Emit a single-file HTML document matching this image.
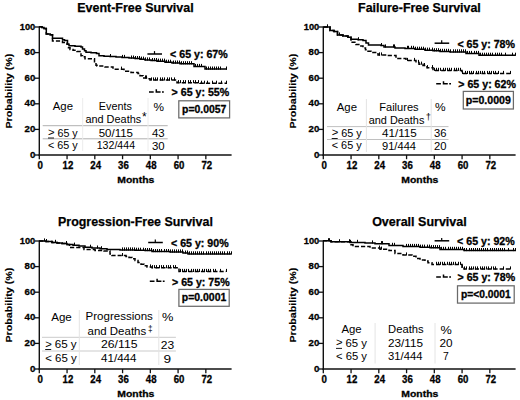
<!DOCTYPE html>
<html><head><meta charset="utf-8"><style>
html,body{margin:0;padding:0;background:#fff;}
svg{display:block;}
text{font-family:"Liberation Sans", sans-serif;fill:#000;}
</style></head><body>
<svg width="520" height="400" viewBox="0 0 520 400">
<rect width="520" height="400" fill="#fff"/>
<text x="135.45" y="11.50" font-size="12.8" font-weight="bold" text-anchor="middle" textLength="116.5" lengthAdjust="spacingAndGlyphs" stroke="#000" stroke-width="0.25">Event-Free Survival</text>
<line x1="39.30" y1="26.40" x2="39.30" y2="155.70" stroke="#111" stroke-width="1.4"/>
<line x1="38.60" y1="155.00" x2="231.60" y2="155.00" stroke="#111" stroke-width="1.4"/>
<line x1="34.80" y1="155.00" x2="39.30" y2="155.00" stroke="#111" stroke-width="1.3"/>
<text x="35.30" y="157.50" font-size="9.7" font-weight="bold" text-anchor="end" textLength="5.4" lengthAdjust="spacingAndGlyphs" stroke="#000" stroke-width="0.3">0</text>
<line x1="34.80" y1="129.40" x2="39.30" y2="129.40" stroke="#111" stroke-width="1.3"/>
<text x="35.30" y="131.90" font-size="9.7" font-weight="bold" text-anchor="end" textLength="10.7" lengthAdjust="spacingAndGlyphs" stroke="#000" stroke-width="0.3">20</text>
<line x1="34.80" y1="103.80" x2="39.30" y2="103.80" stroke="#111" stroke-width="1.3"/>
<text x="35.30" y="106.30" font-size="9.7" font-weight="bold" text-anchor="end" textLength="10.7" lengthAdjust="spacingAndGlyphs" stroke="#000" stroke-width="0.3">40</text>
<line x1="34.80" y1="78.20" x2="39.30" y2="78.20" stroke="#111" stroke-width="1.3"/>
<text x="35.30" y="80.70" font-size="9.7" font-weight="bold" text-anchor="end" textLength="10.7" lengthAdjust="spacingAndGlyphs" stroke="#000" stroke-width="0.3">60</text>
<line x1="34.80" y1="52.60" x2="39.30" y2="52.60" stroke="#111" stroke-width="1.3"/>
<text x="35.30" y="55.10" font-size="9.7" font-weight="bold" text-anchor="end" textLength="10.7" lengthAdjust="spacingAndGlyphs" stroke="#000" stroke-width="0.3">80</text>
<line x1="34.80" y1="27.00" x2="39.30" y2="27.00" stroke="#111" stroke-width="1.3"/>
<text x="35.30" y="29.50" font-size="9.7" font-weight="bold" text-anchor="end" textLength="15.5" lengthAdjust="spacingAndGlyphs" stroke="#000" stroke-width="0.3">100</text>
<line x1="39.30" y1="155.00" x2="39.30" y2="159.20" stroke="#111" stroke-width="1.3"/>
<text x="40.20" y="168.80" font-size="10.0" font-weight="bold" text-anchor="middle" textLength="5.4" lengthAdjust="spacingAndGlyphs" stroke="#000" stroke-width="0.3">0</text>
<line x1="67.06" y1="155.00" x2="67.06" y2="159.20" stroke="#111" stroke-width="1.3"/>
<text x="67.96" y="168.80" font-size="10.0" font-weight="bold" text-anchor="middle" textLength="10.7" lengthAdjust="spacingAndGlyphs" stroke="#000" stroke-width="0.3">12</text>
<line x1="94.81" y1="155.00" x2="94.81" y2="159.20" stroke="#111" stroke-width="1.3"/>
<text x="95.71" y="168.80" font-size="10.0" font-weight="bold" text-anchor="middle" textLength="10.7" lengthAdjust="spacingAndGlyphs" stroke="#000" stroke-width="0.3">24</text>
<line x1="122.57" y1="155.00" x2="122.57" y2="159.20" stroke="#111" stroke-width="1.3"/>
<text x="123.47" y="168.80" font-size="10.0" font-weight="bold" text-anchor="middle" textLength="10.7" lengthAdjust="spacingAndGlyphs" stroke="#000" stroke-width="0.3">36</text>
<line x1="150.32" y1="155.00" x2="150.32" y2="159.20" stroke="#111" stroke-width="1.3"/>
<text x="151.22" y="168.80" font-size="10.0" font-weight="bold" text-anchor="middle" textLength="10.7" lengthAdjust="spacingAndGlyphs" stroke="#000" stroke-width="0.3">48</text>
<line x1="178.08" y1="155.00" x2="178.08" y2="159.20" stroke="#111" stroke-width="1.3"/>
<text x="178.98" y="168.80" font-size="10.0" font-weight="bold" text-anchor="middle" textLength="10.7" lengthAdjust="spacingAndGlyphs" stroke="#000" stroke-width="0.3">60</text>
<line x1="205.84" y1="155.00" x2="205.84" y2="159.20" stroke="#111" stroke-width="1.3"/>
<text x="206.74" y="168.80" font-size="10.0" font-weight="bold" text-anchor="middle" textLength="10.7" lengthAdjust="spacingAndGlyphs" stroke="#000" stroke-width="0.3">72</text>
<text x="135.80" y="183.10" font-size="9.9" font-weight="bold" text-anchor="middle" textLength="37.0" lengthAdjust="spacingAndGlyphs" stroke="#000" stroke-width="0.3">Months</text>
<text x="0" y="0" font-size="9.7" font-weight="bold" stroke="#000" stroke-width="0.15" text-anchor="middle" textLength="75" lengthAdjust="spacingAndGlyphs" transform="translate(12.30,91.10) rotate(-90)">Probability (%)</text>
<path d="M39.20 26.80H42.00V27.50H44.00V28.50H46.30V33.90H50.20V34.70H52.50V38.20H62.50V39.70H64.50V40.40H67.50V44.30H69.00V45.80H75.00V46.30H81.00V47.10H82.50V49.00H84.50V50.70H86.00V52.20H91.00V52.80H96.50V53.60H99.00V55.80H104.00V56.30H110.00V56.60H116.00V57.10H122.00V57.50H129.00V58.10H135.00V58.60H140.00V59.20H145.00V60.00H151.00V60.60H157.00V61.20H165.00V62.30H172.00V63.10H180.00V63.80H194.00V66.50H205.00V69.10H227.00" fill="none" stroke="#000" stroke-width="1.5"/>
<path d="M39.20 26.80H42.00V27.50H44.00V28.50H46.30V33.90H50.20V34.70H52.50V41.10H62.50V42.40H67.00V44.30H68.50V47.80H70.00V49.40H73.00V50.30H77.00V51.40H80.00V52.60H81.00V55.70H82.50V56.80H85.00V58.80H94.50V63.00H96.00V65.30H97.00V66.00H105.00V66.90H113.00V69.20H124.00V71.20H131.00V72.50H138.00V73.50H140.00V75.80H143.00V78.00H148.00V78.80H150.00V80.00H177.00V82.70H200.00V83.30H227.00" fill="none" stroke="#000" stroke-width="1.5" stroke-dasharray="4.2 2"/>
<path d="M110.50 57.10v-3.1M122.50 58.00v-3.1M124.50 58.00v-3.1M131.50 58.60v-3.1M133.50 58.60v-3.1M135.50 59.10v-3.1M137.50 59.10v-3.1M139.50 59.10v-3.1M141.50 59.70v-3.1M143.50 59.70v-3.1M145.50 60.50v-3.1M147.50 60.50v-3.1M149.50 60.50v-3.1M152.50 61.10v-3.1M154.50 61.10v-3.1M156.50 61.10v-3.1M158.50 61.70v-3.1M160.50 61.70v-3.1M162.50 61.70v-3.1M164.50 61.70v-3.1M166.50 62.80v-3.1M168.50 62.80v-3.1M170.50 62.80v-3.1M173.50 63.60v-3.1M175.50 63.60v-3.1M177.50 63.60v-3.1M179.50 63.60v-3.1M181.50 64.30v-3.1M183.50 64.30v-3.1M185.50 64.30v-3.1M187.50 64.30v-3.1M189.50 64.30v-3.1M191.50 64.30v-3.1M195.50 67.00v-3.1M197.50 67.00v-3.1M199.50 67.00v-3.1M201.50 67.00v-3.1M206.50 69.60v-3.1M208.50 69.60v-3.1M210.50 69.60v-3.1M212.50 69.60v-3.1M214.50 69.60v-3.1M216.50 69.60v-3.1M218.50 69.60v-3.1M220.50 69.60v-3.1M226.50 69.60v-3.1M121.50 69.70v-3.1M145.50 78.50v-3.1M146.50 78.50v-3.1M151.50 80.50v-3.1M153.50 80.50v-3.1M155.50 80.50v-3.1M157.50 80.50v-3.1M160.50 80.50v-3.1M162.50 80.50v-3.1M164.50 80.50v-3.1M167.50 80.50v-3.1M169.50 80.50v-3.1M171.50 80.50v-3.1M174.50 80.50v-3.1M178.50 83.20v-3.1M180.50 83.20v-3.1M183.50 83.20v-3.1M185.50 83.20v-3.1M188.50 83.20v-3.1M190.50 83.20v-3.1M193.50 83.20v-3.1M195.50 83.20v-3.1M198.50 83.20v-3.1M201.50 83.80v-3.1M204.50 83.80v-3.1M207.50 83.80v-3.1M212.50 83.80v-3.1M216.50 83.80v-3.1M221.50 83.80v-3.1M226.50 83.80v-3.1" fill="none" stroke="#000" stroke-width="1.0"/>
<line x1="147.40" y1="54.00" x2="162.00" y2="54.00" stroke="#000" stroke-width="1.5"/>
<line x1="154.50" y1="54.00" x2="154.50" y2="51.10" stroke="#000" stroke-width="1.2"/>
<text x="170.10" y="58.30" font-size="10.3" font-weight="bold" text-anchor="start" textLength="57.6" lengthAdjust="spacingAndGlyphs" stroke="#000" stroke-width="0.3">&lt; 65 y: 67%</text>
<path d="M149.00 91.90h4.7M156.30 89.30V91.90h4.3M162.00 91.90h1.8" fill="none" stroke="#000" stroke-width="1.5"/>
<text x="171.60" y="96.10" font-size="10.3" font-weight="bold" text-anchor="start" textLength="57.6" lengthAdjust="spacingAndGlyphs" stroke="#000" stroke-width="0.3">&gt; 65 y: 55%</text>
<rect x="178.80" y="100.80" width="50.80" height="17.10" fill="#fff" stroke="#6a6a6a" stroke-width="1.25"/>
<text x="204.20" y="112.95" font-size="10.2" font-weight="bold" text-anchor="middle" textLength="44.3" lengthAdjust="spacingAndGlyphs" stroke="#000" stroke-width="0.3">p=0.0057</text>
<text x="62.90" y="109.50" font-size="10.5" text-anchor="middle" textLength="20.2" lengthAdjust="spacingAndGlyphs">Age</text>
<text x="115.30" y="109.50" font-size="10.5" text-anchor="middle" textLength="33" lengthAdjust="spacingAndGlyphs">Events</text>
<text x="113.30" y="122.60" font-size="10.5" text-anchor="middle" textLength="55.8" lengthAdjust="spacingAndGlyphs">and Deaths</text>
<text x="144.30" y="121.40" font-size="12" text-anchor="middle">*</text>
<text x="158.75" y="110.70" font-size="10.5" text-anchor="middle" textLength="10.5" lengthAdjust="spacingAndGlyphs">%</text>
<line x1="42.70" y1="125.70" x2="167.70" y2="125.70" stroke="#b0b0b0" stroke-width="1"/>
<line x1="42.70" y1="138.80" x2="167.70" y2="138.80" stroke="#b0b0b0" stroke-width="1"/>
<line x1="82.70" y1="98.00" x2="82.70" y2="151.00" stroke="#ececec" stroke-width="1"/>
<line x1="148.00" y1="98.00" x2="148.00" y2="151.00" stroke="#ececec" stroke-width="1"/>
<text x="51.30" y="136.30" font-size="10.8" text-anchor="middle" textLength="6.6" lengthAdjust="spacingAndGlyphs">&gt;</text>
<line x1="48.00" y1="138.00" x2="54.00" y2="138.00" stroke="#000" stroke-width="0.9"/>
<text x="67.60" y="136.70" font-size="10.5" text-anchor="middle" textLength="20.200000000000003" lengthAdjust="spacingAndGlyphs">65 y</text>
<text x="62.85" y="149.30" font-size="10.5" text-anchor="middle" textLength="29.700000000000003" lengthAdjust="spacingAndGlyphs">&lt; 65 y</text>
<text x="115.85" y="136.70" font-size="10.5" text-anchor="middle" textLength="34.3" lengthAdjust="spacingAndGlyphs">50/115</text>
<text x="115.90" y="149.30" font-size="10.5" text-anchor="middle" textLength="38.4" lengthAdjust="spacingAndGlyphs">132/444</text>
<text x="158.35" y="136.70" font-size="10.5" text-anchor="middle" textLength="12.7" lengthAdjust="spacingAndGlyphs">43</text>
<text x="158.35" y="149.50" font-size="10.5" text-anchor="middle" textLength="12.7" lengthAdjust="spacingAndGlyphs">30</text>
<text x="419.45" y="11.50" font-size="12.8" font-weight="bold" text-anchor="middle" textLength="122.7" lengthAdjust="spacingAndGlyphs" stroke="#000" stroke-width="0.25">Failure-Free Survival</text>
<line x1="323.30" y1="26.40" x2="323.30" y2="155.70" stroke="#111" stroke-width="1.4"/>
<line x1="322.60" y1="155.00" x2="515.60" y2="155.00" stroke="#111" stroke-width="1.4"/>
<line x1="318.80" y1="155.00" x2="323.30" y2="155.00" stroke="#111" stroke-width="1.3"/>
<text x="319.30" y="157.50" font-size="9.7" font-weight="bold" text-anchor="end" textLength="5.4" lengthAdjust="spacingAndGlyphs" stroke="#000" stroke-width="0.3">0</text>
<line x1="318.80" y1="129.40" x2="323.30" y2="129.40" stroke="#111" stroke-width="1.3"/>
<text x="319.30" y="131.90" font-size="9.7" font-weight="bold" text-anchor="end" textLength="10.7" lengthAdjust="spacingAndGlyphs" stroke="#000" stroke-width="0.3">20</text>
<line x1="318.80" y1="103.80" x2="323.30" y2="103.80" stroke="#111" stroke-width="1.3"/>
<text x="319.30" y="106.30" font-size="9.7" font-weight="bold" text-anchor="end" textLength="10.7" lengthAdjust="spacingAndGlyphs" stroke="#000" stroke-width="0.3">40</text>
<line x1="318.80" y1="78.20" x2="323.30" y2="78.20" stroke="#111" stroke-width="1.3"/>
<text x="319.30" y="80.70" font-size="9.7" font-weight="bold" text-anchor="end" textLength="10.7" lengthAdjust="spacingAndGlyphs" stroke="#000" stroke-width="0.3">60</text>
<line x1="318.80" y1="52.60" x2="323.30" y2="52.60" stroke="#111" stroke-width="1.3"/>
<text x="319.30" y="55.10" font-size="9.7" font-weight="bold" text-anchor="end" textLength="10.7" lengthAdjust="spacingAndGlyphs" stroke="#000" stroke-width="0.3">80</text>
<line x1="318.80" y1="27.00" x2="323.30" y2="27.00" stroke="#111" stroke-width="1.3"/>
<text x="319.30" y="29.50" font-size="9.7" font-weight="bold" text-anchor="end" textLength="15.5" lengthAdjust="spacingAndGlyphs" stroke="#000" stroke-width="0.3">100</text>
<line x1="323.30" y1="155.00" x2="323.30" y2="159.20" stroke="#111" stroke-width="1.3"/>
<text x="324.20" y="168.80" font-size="10.0" font-weight="bold" text-anchor="middle" textLength="5.4" lengthAdjust="spacingAndGlyphs" stroke="#000" stroke-width="0.3">0</text>
<line x1="351.06" y1="155.00" x2="351.06" y2="159.20" stroke="#111" stroke-width="1.3"/>
<text x="351.96" y="168.80" font-size="10.0" font-weight="bold" text-anchor="middle" textLength="10.7" lengthAdjust="spacingAndGlyphs" stroke="#000" stroke-width="0.3">12</text>
<line x1="378.81" y1="155.00" x2="378.81" y2="159.20" stroke="#111" stroke-width="1.3"/>
<text x="379.71" y="168.80" font-size="10.0" font-weight="bold" text-anchor="middle" textLength="10.7" lengthAdjust="spacingAndGlyphs" stroke="#000" stroke-width="0.3">24</text>
<line x1="406.57" y1="155.00" x2="406.57" y2="159.20" stroke="#111" stroke-width="1.3"/>
<text x="407.47" y="168.80" font-size="10.0" font-weight="bold" text-anchor="middle" textLength="10.7" lengthAdjust="spacingAndGlyphs" stroke="#000" stroke-width="0.3">36</text>
<line x1="434.32" y1="155.00" x2="434.32" y2="159.20" stroke="#111" stroke-width="1.3"/>
<text x="435.22" y="168.80" font-size="10.0" font-weight="bold" text-anchor="middle" textLength="10.7" lengthAdjust="spacingAndGlyphs" stroke="#000" stroke-width="0.3">48</text>
<line x1="462.08" y1="155.00" x2="462.08" y2="159.20" stroke="#111" stroke-width="1.3"/>
<text x="462.98" y="168.80" font-size="10.0" font-weight="bold" text-anchor="middle" textLength="10.7" lengthAdjust="spacingAndGlyphs" stroke="#000" stroke-width="0.3">60</text>
<line x1="489.84" y1="155.00" x2="489.84" y2="159.20" stroke="#111" stroke-width="1.3"/>
<text x="490.74" y="168.80" font-size="10.0" font-weight="bold" text-anchor="middle" textLength="10.7" lengthAdjust="spacingAndGlyphs" stroke="#000" stroke-width="0.3">72</text>
<text x="419.80" y="183.10" font-size="9.9" font-weight="bold" text-anchor="middle" textLength="37.0" lengthAdjust="spacingAndGlyphs" stroke="#000" stroke-width="0.3">Months</text>
<text x="0" y="0" font-size="9.7" font-weight="bold" stroke="#000" stroke-width="0.15" text-anchor="middle" textLength="75" lengthAdjust="spacingAndGlyphs" transform="translate(296.30,91.10) rotate(-90)">Probability (%)</text>
<path d="M323.40 26.90H330.00V30.60H334.00V31.50H337.50V35.00H343.00V36.00H348.00V37.20H351.00V39.20H358.00V39.80H363.00V40.60H366.00V43.00H368.50V45.00H381.00V45.60H384.00V47.00H395.00V47.90H405.00V48.40H415.00V49.30H425.00V50.20H433.00V50.80H440.00V51.40H450.00V51.90H466.00V53.50H479.00V55.30H515.50" fill="none" stroke="#000" stroke-width="1.5"/>
<path d="M323.40 26.90H330.00V30.60H334.00V31.50H337.50V35.00H343.00V36.00H348.00V37.20H351.00V42.30H356.00V44.50H360.00V46.00H363.00V48.00H365.50V49.80H368.00V51.20H371.00V52.50H378.00V55.00H387.00V55.60H396.00V58.50H406.00V60.50H416.00V62.50H419.00V64.20H423.00V65.60H427.00V67.70H433.00V70.40H462.00V73.50H511.20" fill="none" stroke="#000" stroke-width="1.5" stroke-dasharray="4.2 2"/>
<path d="M327.50 27.40v-3.1M339.50 35.50v-3.1M358.50 40.30v-3.1M381.50 46.10v-3.1M385.50 47.50v-3.1M393.50 47.50v-3.1M394.50 47.50v-3.1M407.50 48.90v-3.1M408.50 48.90v-3.1M411.50 48.90v-3.1M413.50 48.90v-3.1M415.50 49.80v-3.1M417.50 49.80v-3.1M419.50 49.80v-3.1M421.50 49.80v-3.1M423.50 49.80v-3.1M425.50 50.70v-3.1M427.50 50.70v-3.1M429.50 50.70v-3.1M432.50 50.70v-3.1M434.50 51.30v-3.1M436.50 51.30v-3.1M438.50 51.30v-3.1M440.50 51.90v-3.1M442.50 51.90v-3.1M444.50 51.90v-3.1M446.50 51.90v-3.1M448.50 51.90v-3.1M450.50 52.40v-3.1M453.50 52.40v-3.1M455.50 52.40v-3.1M457.50 52.40v-3.1M459.50 52.40v-3.1M461.50 52.40v-3.1M463.50 52.40v-3.1M465.50 52.40v-3.1M467.50 54.00v-3.1M469.50 54.00v-3.1M471.50 54.00v-3.1M474.50 54.00v-3.1M476.50 54.00v-3.1M478.50 54.00v-3.1M480.50 55.80v-3.1M482.50 55.80v-3.1M484.50 55.80v-3.1M486.50 55.80v-3.1M488.50 55.80v-3.1M490.50 55.80v-3.1M492.50 55.80v-3.1M495.50 55.80v-3.1M497.50 55.80v-3.1M499.50 55.80v-3.1M501.50 55.80v-3.1M505.50 55.80v-3.1M512.50 55.80v-3.1M515.50 55.80v-3.1M379.50 55.50v-3.1M381.50 55.50v-3.1M407.50 61.00v-3.1M414.50 61.00v-3.1M418.50 63.00v-3.1M421.50 64.70v-3.1M424.50 66.10v-3.1M427.50 68.20v-3.1M432.50 68.20v-3.1M434.50 70.90v-3.1M436.50 70.90v-3.1M438.50 70.90v-3.1M440.50 70.90v-3.1M443.50 70.90v-3.1M445.50 70.90v-3.1M447.50 70.90v-3.1M449.50 70.90v-3.1M451.50 70.90v-3.1M454.50 70.90v-3.1M456.50 70.90v-3.1M458.50 70.90v-3.1M460.50 70.90v-3.1M462.50 74.00v-3.1M465.50 74.00v-3.1M467.50 74.00v-3.1M469.50 74.00v-3.1M471.50 74.00v-3.1M473.50 74.00v-3.1M476.50 74.00v-3.1M478.50 74.00v-3.1M480.50 74.00v-3.1M482.50 74.00v-3.1M484.50 74.00v-3.1M487.50 74.00v-3.1M489.50 74.00v-3.1M491.50 74.00v-3.1M493.50 74.00v-3.1M495.50 74.00v-3.1M498.50 74.00v-3.1M503.50 74.00v-3.1M510.50 74.00v-3.1" fill="none" stroke="#000" stroke-width="1.0"/>
<line x1="434.60" y1="43.20" x2="449.20" y2="43.20" stroke="#000" stroke-width="1.5"/>
<line x1="441.70" y1="43.20" x2="441.70" y2="40.30" stroke="#000" stroke-width="1.2"/>
<text x="457.40" y="47.50" font-size="10.3" font-weight="bold" text-anchor="start" textLength="57.6" lengthAdjust="spacingAndGlyphs" stroke="#000" stroke-width="0.3">&lt; 65 y: 78%</text>
<path d="M436.20 83.80h4.7M443.50 81.20V83.80h4.3M449.20 83.80h1.8" fill="none" stroke="#000" stroke-width="1.5"/>
<text x="458.30" y="88.00" font-size="10.3" font-weight="bold" text-anchor="start" textLength="57.6" lengthAdjust="spacingAndGlyphs" stroke="#000" stroke-width="0.3">&gt; 65 y: 62%</text>
<rect x="463.30" y="91.40" width="50.10" height="17.60" fill="#fff" stroke="#6a6a6a" stroke-width="1.25"/>
<text x="488.35" y="103.80" font-size="10.2" font-weight="bold" text-anchor="middle" textLength="45.0" lengthAdjust="spacingAndGlyphs" stroke="#000" stroke-width="0.3">p=0.0009</text>
<text x="346.90" y="110.70" font-size="10.5" text-anchor="middle" textLength="20.2" lengthAdjust="spacingAndGlyphs">Age</text>
<text x="398.95" y="110.80" font-size="10.5" text-anchor="middle" textLength="39.5" lengthAdjust="spacingAndGlyphs">Failures</text>
<text x="396.55" y="123.50" font-size="10.5" text-anchor="middle" textLength="55.7" lengthAdjust="spacingAndGlyphs">and Deaths</text>
<text x="428.30" y="119.50" font-size="9.5" text-anchor="middle">†</text>
<text x="440.30" y="111.30" font-size="10.5" text-anchor="middle" textLength="10.6" lengthAdjust="spacingAndGlyphs">%</text>
<line x1="327.00" y1="126.60" x2="448.50" y2="126.60" stroke="#c0c0c0" stroke-width="1"/>
<line x1="327.00" y1="139.50" x2="448.50" y2="139.50" stroke="#c0c0c0" stroke-width="1"/>
<line x1="366.40" y1="99.00" x2="366.40" y2="152.00" stroke="#e4e4e4" stroke-width="1"/>
<line x1="431.20" y1="99.00" x2="431.20" y2="152.00" stroke="#e4e4e4" stroke-width="1"/>
<text x="335.00" y="136.40" font-size="10.8" text-anchor="middle" textLength="6.6" lengthAdjust="spacingAndGlyphs">&gt;</text>
<line x1="331.70" y1="138.50" x2="337.70" y2="138.50" stroke="#000" stroke-width="0.9"/>
<text x="351.45" y="136.80" font-size="10.5" text-anchor="middle" textLength="20.5" lengthAdjust="spacingAndGlyphs">65 y</text>
<text x="346.70" y="149.40" font-size="10.5" text-anchor="middle" textLength="30.0" lengthAdjust="spacingAndGlyphs">&lt; 65 y</text>
<text x="399.35" y="136.90" font-size="10.5" text-anchor="middle" textLength="34.7" lengthAdjust="spacingAndGlyphs">41/115</text>
<text x="399.00" y="149.80" font-size="10.5" text-anchor="middle" textLength="34" lengthAdjust="spacingAndGlyphs">91/444</text>
<text x="440.25" y="136.90" font-size="10.5" text-anchor="middle" textLength="12.5" lengthAdjust="spacingAndGlyphs">36</text>
<text x="440.25" y="149.80" font-size="10.5" text-anchor="middle" textLength="12.5" lengthAdjust="spacingAndGlyphs">20</text>
<text x="135.45" y="225.50" font-size="12.8" font-weight="bold" text-anchor="middle" textLength="154.8" lengthAdjust="spacingAndGlyphs" stroke="#000" stroke-width="0.25">Progression-Free Survival</text>
<line x1="39.30" y1="240.40" x2="39.30" y2="369.70" stroke="#111" stroke-width="1.4"/>
<line x1="38.60" y1="369.00" x2="231.60" y2="369.00" stroke="#111" stroke-width="1.4"/>
<line x1="34.80" y1="369.00" x2="39.30" y2="369.00" stroke="#111" stroke-width="1.3"/>
<text x="35.30" y="371.50" font-size="9.7" font-weight="bold" text-anchor="end" textLength="5.4" lengthAdjust="spacingAndGlyphs" stroke="#000" stroke-width="0.3">0</text>
<line x1="34.80" y1="343.40" x2="39.30" y2="343.40" stroke="#111" stroke-width="1.3"/>
<text x="35.30" y="345.90" font-size="9.7" font-weight="bold" text-anchor="end" textLength="10.7" lengthAdjust="spacingAndGlyphs" stroke="#000" stroke-width="0.3">20</text>
<line x1="34.80" y1="317.80" x2="39.30" y2="317.80" stroke="#111" stroke-width="1.3"/>
<text x="35.30" y="320.30" font-size="9.7" font-weight="bold" text-anchor="end" textLength="10.7" lengthAdjust="spacingAndGlyphs" stroke="#000" stroke-width="0.3">40</text>
<line x1="34.80" y1="292.20" x2="39.30" y2="292.20" stroke="#111" stroke-width="1.3"/>
<text x="35.30" y="294.70" font-size="9.7" font-weight="bold" text-anchor="end" textLength="10.7" lengthAdjust="spacingAndGlyphs" stroke="#000" stroke-width="0.3">60</text>
<line x1="34.80" y1="266.60" x2="39.30" y2="266.60" stroke="#111" stroke-width="1.3"/>
<text x="35.30" y="269.10" font-size="9.7" font-weight="bold" text-anchor="end" textLength="10.7" lengthAdjust="spacingAndGlyphs" stroke="#000" stroke-width="0.3">80</text>
<line x1="34.80" y1="241.00" x2="39.30" y2="241.00" stroke="#111" stroke-width="1.3"/>
<text x="35.30" y="243.50" font-size="9.7" font-weight="bold" text-anchor="end" textLength="15.5" lengthAdjust="spacingAndGlyphs" stroke="#000" stroke-width="0.3">100</text>
<line x1="39.30" y1="369.00" x2="39.30" y2="373.20" stroke="#111" stroke-width="1.3"/>
<text x="40.20" y="382.80" font-size="10.0" font-weight="bold" text-anchor="middle" textLength="5.4" lengthAdjust="spacingAndGlyphs" stroke="#000" stroke-width="0.3">0</text>
<line x1="67.06" y1="369.00" x2="67.06" y2="373.20" stroke="#111" stroke-width="1.3"/>
<text x="67.96" y="382.80" font-size="10.0" font-weight="bold" text-anchor="middle" textLength="10.7" lengthAdjust="spacingAndGlyphs" stroke="#000" stroke-width="0.3">12</text>
<line x1="94.81" y1="369.00" x2="94.81" y2="373.20" stroke="#111" stroke-width="1.3"/>
<text x="95.71" y="382.80" font-size="10.0" font-weight="bold" text-anchor="middle" textLength="10.7" lengthAdjust="spacingAndGlyphs" stroke="#000" stroke-width="0.3">24</text>
<line x1="122.57" y1="369.00" x2="122.57" y2="373.20" stroke="#111" stroke-width="1.3"/>
<text x="123.47" y="382.80" font-size="10.0" font-weight="bold" text-anchor="middle" textLength="10.7" lengthAdjust="spacingAndGlyphs" stroke="#000" stroke-width="0.3">36</text>
<line x1="150.32" y1="369.00" x2="150.32" y2="373.20" stroke="#111" stroke-width="1.3"/>
<text x="151.22" y="382.80" font-size="10.0" font-weight="bold" text-anchor="middle" textLength="10.7" lengthAdjust="spacingAndGlyphs" stroke="#000" stroke-width="0.3">48</text>
<line x1="178.08" y1="369.00" x2="178.08" y2="373.20" stroke="#111" stroke-width="1.3"/>
<text x="178.98" y="382.80" font-size="10.0" font-weight="bold" text-anchor="middle" textLength="10.7" lengthAdjust="spacingAndGlyphs" stroke="#000" stroke-width="0.3">60</text>
<line x1="205.84" y1="369.00" x2="205.84" y2="373.20" stroke="#111" stroke-width="1.3"/>
<text x="206.74" y="382.80" font-size="10.0" font-weight="bold" text-anchor="middle" textLength="10.7" lengthAdjust="spacingAndGlyphs" stroke="#000" stroke-width="0.3">72</text>
<text x="135.80" y="397.10" font-size="9.9" font-weight="bold" text-anchor="middle" textLength="37.0" lengthAdjust="spacingAndGlyphs" stroke="#000" stroke-width="0.3">Months</text>
<text x="0" y="0" font-size="9.7" font-weight="bold" stroke="#000" stroke-width="0.15" text-anchor="middle" textLength="75" lengthAdjust="spacingAndGlyphs" transform="translate(12.30,305.10) rotate(-90)">Probability (%)</text>
<path d="M39.20 241.00H46.00V241.60H52.00V242.40H57.00V243.10H62.00V243.60H67.00V244.50H73.00V245.20H79.00V245.90H85.00V247.30H92.00V248.10H100.00V248.80H107.00V249.60H120.00V250.00H135.00V250.30H145.00V250.60H152.00V251.60H170.00V252.00H183.00V253.10H188.00V253.90H231.50" fill="none" stroke="#000" stroke-width="1.5"/>
<path d="M39.20 241.00H46.00V241.60H52.00V242.40H57.00V243.10H62.00V243.60H67.00V244.50H69.50V247.40H84.00V249.50H95.00V250.40H104.00V251.00H110.00V254.00H112.00V255.60H126.00V256.40H129.00V257.40H132.00V258.80H135.00V260.60H138.00V262.50H141.00V264.30H144.00V265.80H147.00V267.00H152.00V267.70H179.00V271.50H226.00" fill="none" stroke="#000" stroke-width="1.5" stroke-dasharray="4.2 2"/>
<path d="M44.50 241.50v-3.1M46.50 242.10v-3.1M55.50 242.90v-3.1M66.50 244.10v-3.1M74.50 245.70v-3.1M90.50 247.80v-3.1M97.50 248.60v-3.1M101.50 249.30v-3.1M122.50 250.50v-3.1M124.50 250.50v-3.1M126.50 250.50v-3.1M128.50 250.50v-3.1M130.50 250.50v-3.1M132.50 250.50v-3.1M134.50 250.50v-3.1M136.50 250.80v-3.1M138.50 250.80v-3.1M140.50 250.80v-3.1M143.50 250.80v-3.1M145.50 251.10v-3.1M147.50 251.10v-3.1M149.50 251.10v-3.1M151.50 251.10v-3.1M153.50 252.10v-3.1M155.50 252.10v-3.1M157.50 252.10v-3.1M159.50 252.10v-3.1M161.50 252.10v-3.1M164.50 252.10v-3.1M166.50 252.10v-3.1M168.50 252.10v-3.1M170.50 252.50v-3.1M172.50 252.50v-3.1M174.50 252.50v-3.1M176.50 252.50v-3.1M178.50 252.50v-3.1M180.50 252.50v-3.1M182.50 252.50v-3.1M185.50 253.60v-3.1M187.50 253.60v-3.1M189.50 254.40v-3.1M191.50 254.40v-3.1M193.50 254.40v-3.1M195.50 254.40v-3.1M197.50 254.40v-3.1M199.50 254.40v-3.1M201.50 254.40v-3.1M203.50 254.40v-3.1M206.50 254.40v-3.1M208.50 254.40v-3.1M210.50 254.40v-3.1M212.50 254.40v-3.1M214.50 254.40v-3.1M216.50 254.40v-3.1M218.50 254.40v-3.1M220.50 254.40v-3.1M222.50 254.40v-3.1M224.50 254.40v-3.1M227.50 254.40v-3.1M229.50 254.40v-3.1M231.50 254.40v-3.1M122.50 256.10v-3.1M150.50 267.50v-3.1M152.50 268.20v-3.1M154.50 268.20v-3.1M156.50 268.20v-3.1M159.50 268.20v-3.1M161.50 268.20v-3.1M163.50 268.20v-3.1M166.50 268.20v-3.1M168.50 268.20v-3.1M170.50 268.20v-3.1M173.50 268.20v-3.1M175.50 268.20v-3.1M180.50 272.00v-3.1M182.50 272.00v-3.1M184.50 272.00v-3.1M186.50 272.00v-3.1M188.50 272.00v-3.1M191.50 272.00v-3.1M193.50 272.00v-3.1M195.50 272.00v-3.1M197.50 272.00v-3.1M199.50 272.00v-3.1M202.50 272.00v-3.1M204.50 272.00v-3.1M206.50 272.00v-3.1M208.50 272.00v-3.1M210.50 272.00v-3.1M213.50 272.00v-3.1M215.50 272.00v-3.1M220.50 272.00v-3.1M226.50 272.00v-3.1" fill="none" stroke="#000" stroke-width="1.0"/>
<line x1="148.20" y1="242.50" x2="162.80" y2="242.50" stroke="#000" stroke-width="1.5"/>
<line x1="155.30" y1="242.50" x2="155.30" y2="239.60" stroke="#000" stroke-width="1.2"/>
<text x="171.00" y="246.80" font-size="10.3" font-weight="bold" text-anchor="start" textLength="57.6" lengthAdjust="spacingAndGlyphs" stroke="#000" stroke-width="0.3">&lt; 65 y: 90%</text>
<path d="M149.80 281.30h4.7M157.10 278.70V281.30h4.3M162.80 281.30h1.8" fill="none" stroke="#000" stroke-width="1.5"/>
<text x="172.00" y="285.50" font-size="10.3" font-weight="bold" text-anchor="start" textLength="57.6" lengthAdjust="spacingAndGlyphs" stroke="#000" stroke-width="0.3">&gt; 65 y: 75%</text>
<rect x="178.90" y="289.40" width="50.30" height="16.90" fill="#fff" stroke="#6a6a6a" stroke-width="1.25"/>
<text x="204.05" y="301.45" font-size="10.2" font-weight="bold" text-anchor="middle" textLength="44.5" lengthAdjust="spacingAndGlyphs" stroke="#000" stroke-width="0.3">p=0.0001</text>
<text x="61.50" y="320.70" font-size="10.5" text-anchor="middle" textLength="20.6" lengthAdjust="spacingAndGlyphs">Age</text>
<text x="119.25" y="320.40" font-size="10.5" text-anchor="middle" textLength="67.3" lengthAdjust="spacingAndGlyphs">Progressions</text>
<text x="116.85" y="334.80" font-size="10.5" text-anchor="middle" textLength="58.7" lengthAdjust="spacingAndGlyphs">and Deaths</text>
<text x="150.40" y="332.40" font-size="8.2" text-anchor="middle">‡</text>
<text x="167.60" y="321.00" font-size="10.5" text-anchor="middle" textLength="11.4" lengthAdjust="spacingAndGlyphs">%</text>
<line x1="42.00" y1="337.30" x2="175.90" y2="337.30" stroke="#cbcbcb" stroke-width="1"/>
<line x1="42.00" y1="351.00" x2="175.90" y2="351.00" stroke="#cbcbcb" stroke-width="1"/>
<line x1="79.30" y1="310.00" x2="79.30" y2="365.00" stroke="#e4e4e4" stroke-width="1"/>
<line x1="158.80" y1="310.00" x2="158.80" y2="365.00" stroke="#e4e4e4" stroke-width="1"/>
<text x="48.50" y="347.80" font-size="10.8" text-anchor="middle" textLength="6.6" lengthAdjust="spacingAndGlyphs">&gt;</text>
<line x1="45.20" y1="349.50" x2="51.20" y2="349.50" stroke="#000" stroke-width="0.9"/>
<text x="65.70" y="348.20" font-size="10.5" text-anchor="middle" textLength="22.0" lengthAdjust="spacingAndGlyphs">65 y</text>
<text x="60.95" y="362.00" font-size="10.5" text-anchor="middle" textLength="31.5" lengthAdjust="spacingAndGlyphs">&lt; 65 y</text>
<text x="119.25" y="347.70" font-size="10.5" text-anchor="middle" textLength="36.5" lengthAdjust="spacingAndGlyphs">26/115</text>
<text x="118.75" y="361.70" font-size="10.5" text-anchor="middle" textLength="35.5" lengthAdjust="spacingAndGlyphs">41/444</text>
<text x="167.40" y="348.70" font-size="10.5" text-anchor="middle" textLength="13.4" lengthAdjust="spacingAndGlyphs">23</text>
<text x="167.40" y="362.70" font-size="10.5" text-anchor="middle" textLength="7.6" lengthAdjust="spacingAndGlyphs">9</text>
<text x="419.45" y="225.50" font-size="12.8" font-weight="bold" text-anchor="middle" textLength="94.6" lengthAdjust="spacingAndGlyphs" stroke="#000" stroke-width="0.25">Overall Survival</text>
<line x1="323.30" y1="240.40" x2="323.30" y2="369.70" stroke="#111" stroke-width="1.4"/>
<line x1="322.60" y1="369.00" x2="515.60" y2="369.00" stroke="#111" stroke-width="1.4"/>
<line x1="318.80" y1="369.00" x2="323.30" y2="369.00" stroke="#111" stroke-width="1.3"/>
<text x="319.30" y="371.50" font-size="9.7" font-weight="bold" text-anchor="end" textLength="5.4" lengthAdjust="spacingAndGlyphs" stroke="#000" stroke-width="0.3">0</text>
<line x1="318.80" y1="343.40" x2="323.30" y2="343.40" stroke="#111" stroke-width="1.3"/>
<text x="319.30" y="345.90" font-size="9.7" font-weight="bold" text-anchor="end" textLength="10.7" lengthAdjust="spacingAndGlyphs" stroke="#000" stroke-width="0.3">20</text>
<line x1="318.80" y1="317.80" x2="323.30" y2="317.80" stroke="#111" stroke-width="1.3"/>
<text x="319.30" y="320.30" font-size="9.7" font-weight="bold" text-anchor="end" textLength="10.7" lengthAdjust="spacingAndGlyphs" stroke="#000" stroke-width="0.3">40</text>
<line x1="318.80" y1="292.20" x2="323.30" y2="292.20" stroke="#111" stroke-width="1.3"/>
<text x="319.30" y="294.70" font-size="9.7" font-weight="bold" text-anchor="end" textLength="10.7" lengthAdjust="spacingAndGlyphs" stroke="#000" stroke-width="0.3">60</text>
<line x1="318.80" y1="266.60" x2="323.30" y2="266.60" stroke="#111" stroke-width="1.3"/>
<text x="319.30" y="269.10" font-size="9.7" font-weight="bold" text-anchor="end" textLength="10.7" lengthAdjust="spacingAndGlyphs" stroke="#000" stroke-width="0.3">80</text>
<line x1="318.80" y1="241.00" x2="323.30" y2="241.00" stroke="#111" stroke-width="1.3"/>
<text x="319.30" y="243.50" font-size="9.7" font-weight="bold" text-anchor="end" textLength="15.5" lengthAdjust="spacingAndGlyphs" stroke="#000" stroke-width="0.3">100</text>
<line x1="323.30" y1="369.00" x2="323.30" y2="373.20" stroke="#111" stroke-width="1.3"/>
<text x="324.20" y="382.80" font-size="10.0" font-weight="bold" text-anchor="middle" textLength="5.4" lengthAdjust="spacingAndGlyphs" stroke="#000" stroke-width="0.3">0</text>
<line x1="351.06" y1="369.00" x2="351.06" y2="373.20" stroke="#111" stroke-width="1.3"/>
<text x="351.96" y="382.80" font-size="10.0" font-weight="bold" text-anchor="middle" textLength="10.7" lengthAdjust="spacingAndGlyphs" stroke="#000" stroke-width="0.3">12</text>
<line x1="378.81" y1="369.00" x2="378.81" y2="373.20" stroke="#111" stroke-width="1.3"/>
<text x="379.71" y="382.80" font-size="10.0" font-weight="bold" text-anchor="middle" textLength="10.7" lengthAdjust="spacingAndGlyphs" stroke="#000" stroke-width="0.3">24</text>
<line x1="406.57" y1="369.00" x2="406.57" y2="373.20" stroke="#111" stroke-width="1.3"/>
<text x="407.47" y="382.80" font-size="10.0" font-weight="bold" text-anchor="middle" textLength="10.7" lengthAdjust="spacingAndGlyphs" stroke="#000" stroke-width="0.3">36</text>
<line x1="434.32" y1="369.00" x2="434.32" y2="373.20" stroke="#111" stroke-width="1.3"/>
<text x="435.22" y="382.80" font-size="10.0" font-weight="bold" text-anchor="middle" textLength="10.7" lengthAdjust="spacingAndGlyphs" stroke="#000" stroke-width="0.3">48</text>
<line x1="462.08" y1="369.00" x2="462.08" y2="373.20" stroke="#111" stroke-width="1.3"/>
<text x="462.98" y="382.80" font-size="10.0" font-weight="bold" text-anchor="middle" textLength="10.7" lengthAdjust="spacingAndGlyphs" stroke="#000" stroke-width="0.3">60</text>
<line x1="489.84" y1="369.00" x2="489.84" y2="373.20" stroke="#111" stroke-width="1.3"/>
<text x="490.74" y="382.80" font-size="10.0" font-weight="bold" text-anchor="middle" textLength="10.7" lengthAdjust="spacingAndGlyphs" stroke="#000" stroke-width="0.3">72</text>
<text x="419.80" y="397.10" font-size="9.9" font-weight="bold" text-anchor="middle" textLength="37.0" lengthAdjust="spacingAndGlyphs" stroke="#000" stroke-width="0.3">Months</text>
<text x="0" y="0" font-size="9.7" font-weight="bold" stroke="#000" stroke-width="0.15" text-anchor="middle" textLength="75" lengthAdjust="spacingAndGlyphs" transform="translate(296.30,305.10) rotate(-90)">Probability (%)</text>
<path d="M323.20 240.80H331.00V241.80H350.00V242.40H365.00V243.00H375.00V243.70H389.00V245.40H403.00V246.50H420.00V247.20H430.00V247.70H440.00V249.40H464.00V250.60H515.70" fill="none" stroke="#000" stroke-width="1.5"/>
<path d="M323.20 240.80H331.00V241.80H351.00V244.70H353.00V246.40H370.00V248.10H380.00V249.20H389.00V250.60H395.00V253.50H403.00V255.00H412.00V256.30H416.00V258.60H420.00V260.00H425.00V261.00H428.00V262.70H432.00V264.40H462.00V267.30H464.00V269.00H510.80" fill="none" stroke="#000" stroke-width="1.5" stroke-dasharray="4.2 2"/>
<path d="M328.50 241.30v-3.1M329.50 241.30v-3.1M339.50 242.30v-3.1M349.50 242.30v-3.1M350.50 242.90v-3.1M357.50 242.90v-3.1M372.50 243.50v-3.1M381.50 244.20v-3.1M382.50 244.20v-3.1M392.50 245.90v-3.1M394.50 245.90v-3.1M406.50 247.00v-3.1M408.50 247.00v-3.1M410.50 247.00v-3.1M412.50 247.00v-3.1M414.50 247.00v-3.1M416.50 247.00v-3.1M418.50 247.00v-3.1M420.50 247.70v-3.1M422.50 247.70v-3.1M424.50 247.70v-3.1M427.50 247.70v-3.1M429.50 247.70v-3.1M431.50 248.20v-3.1M433.50 248.20v-3.1M435.50 248.20v-3.1M437.50 248.20v-3.1M439.50 248.20v-3.1M441.50 249.90v-3.1M443.50 249.90v-3.1M445.50 249.90v-3.1M448.50 249.90v-3.1M450.50 249.90v-3.1M452.50 249.90v-3.1M454.50 249.90v-3.1M456.50 249.90v-3.1M458.50 249.90v-3.1M460.50 249.90v-3.1M462.50 249.90v-3.1M464.50 251.10v-3.1M466.50 251.10v-3.1M469.50 251.10v-3.1M471.50 251.10v-3.1M473.50 251.10v-3.1M475.50 251.10v-3.1M477.50 251.10v-3.1M479.50 251.10v-3.1M481.50 251.10v-3.1M483.50 251.10v-3.1M485.50 251.10v-3.1M487.50 251.10v-3.1M490.50 251.10v-3.1M492.50 251.10v-3.1M494.50 251.10v-3.1M496.50 251.10v-3.1M498.50 251.10v-3.1M500.50 251.10v-3.1M502.50 251.10v-3.1M504.50 251.10v-3.1M508.50 251.10v-3.1M513.50 251.10v-3.1M515.50 251.10v-3.1M379.50 248.60v-3.1M381.50 249.70v-3.1M406.50 255.50v-3.1M436.50 264.90v-3.1M438.50 264.90v-3.1M440.50 264.90v-3.1M442.50 264.90v-3.1M444.50 264.90v-3.1M447.50 264.90v-3.1M449.50 264.90v-3.1M451.50 264.90v-3.1M453.50 264.90v-3.1M455.50 264.90v-3.1M458.50 264.90v-3.1M460.50 264.90v-3.1M462.50 267.80v-3.1M464.50 269.50v-3.1M466.50 269.50v-3.1M469.50 269.50v-3.1M471.50 269.50v-3.1M473.50 269.50v-3.1M475.50 269.50v-3.1M477.50 269.50v-3.1M480.50 269.50v-3.1M482.50 269.50v-3.1M484.50 269.50v-3.1M486.50 269.50v-3.1M488.50 269.50v-3.1M491.50 269.50v-3.1M493.50 269.50v-3.1M495.50 269.50v-3.1M503.50 269.50v-3.1M510.50 269.50v-3.1" fill="none" stroke="#000" stroke-width="1.0"/>
<line x1="434.60" y1="240.80" x2="449.20" y2="240.80" stroke="#000" stroke-width="1.5"/>
<line x1="441.70" y1="240.80" x2="441.70" y2="237.90" stroke="#000" stroke-width="1.2"/>
<text x="457.10" y="245.10" font-size="10.3" font-weight="bold" text-anchor="start" textLength="57.6" lengthAdjust="spacingAndGlyphs" stroke="#000" stroke-width="0.3">&lt; 65 y: 92%</text>
<path d="M436.20 277.00h4.7M443.50 274.40V277.00h4.3M449.20 277.00h1.8" fill="none" stroke="#000" stroke-width="1.5"/>
<text x="457.50" y="281.20" font-size="10.3" font-weight="bold" text-anchor="start" textLength="57.6" lengthAdjust="spacingAndGlyphs" stroke="#000" stroke-width="0.3">&gt; 65 y: 78%</text>
<rect x="457.50" y="285.80" width="56.70" height="17.30" fill="#fff" stroke="#6a6a6a" stroke-width="1.25"/>
<text x="485.85" y="298.05" font-size="10.2" font-weight="bold" text-anchor="middle" textLength="49.6" lengthAdjust="spacingAndGlyphs" stroke="#000" stroke-width="0.3">p=&lt;0.0001</text>
<text x="351.50" y="333.20" font-size="10.5" text-anchor="middle" textLength="20.2" lengthAdjust="spacingAndGlyphs">Age</text>
<text x="405.90" y="333.20" font-size="10.5" text-anchor="middle" textLength="35.6" lengthAdjust="spacingAndGlyphs">Deaths</text>
<text x="446.25" y="333.75" font-size="10.5" text-anchor="middle" textLength="11.3" lengthAdjust="spacingAndGlyphs">%</text>
<line x1="375.10" y1="323.00" x2="375.10" y2="363.50" stroke="#e4e4e4" stroke-width="1"/>
<line x1="435.00" y1="323.00" x2="435.00" y2="363.50" stroke="#e4e4e4" stroke-width="1"/>
<text x="339.30" y="346.20" font-size="10.8" text-anchor="middle" textLength="6.6" lengthAdjust="spacingAndGlyphs">&gt;</text>
<line x1="336.00" y1="348.40" x2="342.00" y2="348.40" stroke="#000" stroke-width="0.9"/>
<text x="356.25" y="346.60" font-size="10.5" text-anchor="middle" textLength="21.5" lengthAdjust="spacingAndGlyphs">65 y</text>
<text x="351.50" y="360.10" font-size="10.5" text-anchor="middle" textLength="31" lengthAdjust="spacingAndGlyphs">&lt; 65 y</text>
<text x="405.50" y="346.60" font-size="10.5" text-anchor="middle" textLength="35" lengthAdjust="spacingAndGlyphs">23/115</text>
<text x="405.20" y="360.10" font-size="10.5" text-anchor="middle" textLength="34.4" lengthAdjust="spacingAndGlyphs">31/444</text>
<text x="445.95" y="346.90" font-size="10.5" text-anchor="middle" textLength="13.1" lengthAdjust="spacingAndGlyphs">20</text>
<text x="445.90" y="360.00" font-size="10.5" text-anchor="middle" textLength="5.75" lengthAdjust="spacingAndGlyphs">7</text>
</svg></body></html>
